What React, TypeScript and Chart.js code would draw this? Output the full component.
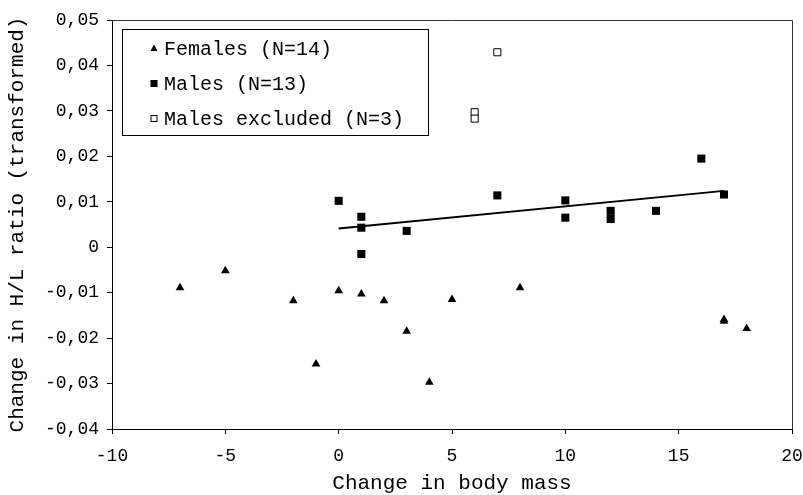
import React, { useEffect, useRef } from "react";
import { Chart, registerables } from "chart.js";

Chart.register(...registerables);

const FONT = "'Liberation Mono', 'Courier New', monospace";

const femalesX = [-7, -5, -2, -1, 0, 1, 2, 3, 4, 5, 8, 17, 17, 18];
const femalesY = [-0.0089, -0.0052, -0.0118, -0.0257, -0.0096, -0.0103, -0.0118, -0.0185, -0.0297, -0.0115, -0.0089, -0.0159, -0.0163, -0.0179];

const malesX = [0, 1, 1, 1, 3, 7, 10, 10, 12, 12, 14, 16, 17];
const malesY = [0.0102, 0.0067, 0.0043, -0.0015, 0.0036, 0.0114, 0.0103, 0.0065, 0.0080, 0.0062, 0.0080, 0.0195, 0.0116];

const excludedX = [6, 6, 7];
const excludedY = [0.0297, 0.0283, 0.0429];

const trendX = [0, 17];
const trendY = [0.0041, 0.0124];

const seriesLabels = ["Females (N=14)", "Males (N=13)", "Males excluded (N=3)"];
const xTitle = "Change in body mass";
const yTitle = "Change in H/L ratio (transformed)";

const toPoints = (xs: number[], ys: number[]) => xs.map((x, i) => ({ x, y: ys[i] }));

const fmt = (v: number) => {
  if (Math.abs(v) < 1e-9) return "0";
  return v.toFixed(2).replace(".", ",");
};

const boxPlugin = {
  id: "boxPlugin",
  afterDraw(chart: any) {
    const { ctx, chartArea } = chart;
    ctx.save();
    // plot frame (top and right)
    ctx.strokeStyle = "#333";
    ctx.lineWidth = 1;
    ctx.beginPath();
    ctx.moveTo(chartArea.left, chartArea.top + 0.5);
    ctx.lineTo(chartArea.right + 0.5, chartArea.top + 0.5);
    ctx.lineTo(chartArea.right + 0.5, chartArea.bottom);
    ctx.stroke();

    // legend box
    const bx = chartArea.left + 10.5;
    const by = chartArea.top + 9.5;
    const bw = 306;
    const bh = 106;
    ctx.fillStyle = "#fff";
    ctx.fillRect(bx, by, bw, bh);
    ctx.strokeStyle = "#000";
    ctx.strokeRect(bx, by, bw, bh);

    ctx.font = `20px ${FONT}`;
    ctx.textBaseline = "middle";
    ctx.textAlign = "left";
    const mx = chartArea.left + 42;
    const tx = chartArea.left + 52;
    for (let i = 0; i < 3; i++) {
      const ds = chart.data.datasets[i];
      const cy = by + 19 + i * 35;
      ctx.fillStyle = "#000";
      ctx.strokeStyle = "#000";
      if (ds.pointStyle === "triangle") {
        ctx.beginPath();
        ctx.moveTo(mx, cy - 4);
        ctx.lineTo(mx + 3.5, cy + 2.5);
        ctx.lineTo(mx - 3.5, cy + 2.5);
        ctx.closePath();
        ctx.fill();
      } else if (ds.backgroundColor === "#000") {
        ctx.fillRect(mx - 3.5, cy - 3.5, 7, 7);
      } else {
        ctx.strokeRect(mx - 3, cy - 3, 6, 6);
      }
      ctx.fillStyle = "#000";
      ctx.fillText(ds.label, tx, cy + 1);
    }
    ctx.restore();
  },
};

export default function App() {
  const ref = useRef<HTMLCanvasElement | null>(null);

  useEffect(() => {
    if (!ref.current) return;
    const chart = new Chart(ref.current, {
      type: "scatter",
      data: {
        datasets: [
          {
            label: seriesLabels[0],
            data: toPoints(femalesX, femalesY),
            pointStyle: "triangle",
            pointRadius: 5,
            backgroundColor: "#000",
            borderColor: "#000",
            borderWidth: 0,
          },
          {
            label: seriesLabels[1],
            data: toPoints(malesX, malesY),
            pointStyle: "rect",
            pointRadius: 5.7,
            backgroundColor: "#000",
            borderColor: "#000",
            borderWidth: 0,
          },
          {
            label: seriesLabels[2],
            data: toPoints(excludedX, excludedY),
            pointStyle: "rect",
            pointRadius: 5,
            backgroundColor: "#fff",
            borderColor: "#000",
            borderWidth: 1,
          },
          {
            type: "line",
            label: "trend",
            data: toPoints(trendX, trendY),
            borderColor: "#000",
            borderWidth: 2,
            pointRadius: 0,
            showLine: true,
            fill: false,
          } as any,
        ],
      },
      options: {
        responsive: false,
        animation: false,
        layout: { padding: { top: 20, right: 11, left: 0, bottom: 0 } },
        plugins: {
          legend: { display: false },
          tooltip: { enabled: false },
        },
        scales: {
          x: {
            type: "linear",
            min: -10,
            max: 20,
            ticks: {
              stepSize: 5,
              color: "#000",
              padding: 11,
              font: { family: FONT, size: 18 },
              maxRotation: 0,
            },
            grid: { drawOnChartArea: false, drawTicks: true, tickLength: 5, color: "#000" },
            border: { display: true, color: "#000", width: 1 },
            title: {
              display: true,
              text: xTitle,
              color: "#000",
              font: { family: FONT, size: 21, lineHeight: 1 },
              padding: { top: 0, bottom: 1 },
            },
            afterFit(scale: any) {
              scale.height = 66;
              scale.paddingLeft = 0;
              scale.paddingRight = 0;
            },
          },
          y: {
            type: "linear",
            min: -0.04,
            max: 0.05,
            ticks: {
              stepSize: 0.01,
              color: "#000",
              padding: 8,
              font: { family: FONT, size: 18 },
              callback: (v: any) => fmt(Number(v)),
            },
            grid: { drawOnChartArea: false, drawTicks: true, tickLength: 5, color: "#000" },
            border: { display: true, color: "#000", width: 1 },
            title: {
              display: true,
              text: yTitle,
              color: "#000",
              font: { family: FONT, size: 21, lineHeight: 1 },
              padding: { top: 7, bottom: 0 },
            },
            afterFit(scale: any) {
              scale.width = 112;
              scale.paddingTop = 0;
              scale.paddingBottom = 0;
            },
          },
        },
      },
      plugins: [boxPlugin],
    });
    return () => chart.destroy();
  }, []);

  return (
    <div style={{ position: "fixed", left: 0, top: 0, width: 803, height: 495, background: "#fff" }}>
      <canvas ref={ref} width={803} height={495} style={{ display: "block" }} />
    </div>
  );
}
